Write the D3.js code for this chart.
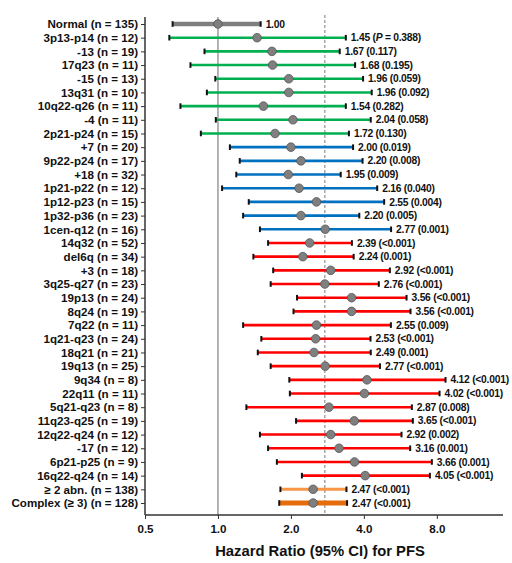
<!DOCTYPE html>
<html>
<head>
<meta charset="utf-8">
<script src="https://cdnjs.cloudflare.com/ajax/libs/d3/7.8.5/d3.min.js"></script>
<style>
    body { margin: 0; background: #fff; }
    text { font-family: "Liberation Sans", Arial, sans-serif; font-weight: bold; }
</style>
</head>
<body>
<svg class="forest" width="512" height="563"></svg>
<script>
(function () {
    'use strict';

    var labels = ['Normal', '3p13-p14', '-13', '17q23', '-15', '13q31', '10q22-q26', '-4', '2p21-p24',
        '+7', '9p22-p24', '+18', '1p21-p22', '1p12-p23', '1p32-p36', '1cen-q12',
        '14q32', 'del6q', '+3', '3q25-q27', '19p13', '8q24', '7q22', '1q21-q23', '18q21', '19q13',
        '9q34', '22q11', '5q21-q23', '11q23-q25', '12q22-q24', '-17', '6p21-p25', '16q22-q24',
        '\u2265 2 abn.', 'Complex (\u2265 3)'];
    var counts = [135, 12, 19, 11, 13, 10, 11, 11, 15,
        20, 17, 32, 12, 15, 23, 16,
        52, 34, 18, 23, 24, 19, 11, 24, 21, 25,
        8, 11, 8, 19, 12, 12, 9, 14,
        138, 128];
    var hr = [1.00, 1.45, 1.67, 1.68, 1.96, 1.96, 1.54, 2.04, 1.72,
        2.00, 2.20, 1.95, 2.16, 2.55, 2.20, 2.77,
        2.39, 2.24, 2.92, 2.76, 3.56, 3.56, 2.55, 2.53, 2.49, 2.77,
        4.12, 4.02, 2.87, 3.65, 2.92, 3.16, 3.66, 4.05,
        2.47, 2.47];
    var lower = [0.65, 0.63, 0.88, 0.77, 0.975, 0.90, 0.70, 0.98, 0.85,
        1.12, 1.23, 1.19, 1.04, 1.34, 1.27, 1.49,
        1.61, 1.40, 1.69, 1.65, 2.12, 2.05, 1.27, 1.51, 1.46, 1.65,
        1.97, 1.98, 1.31, 2.10, 1.49, 1.61, 1.75, 2.22,
        1.81, 1.79];
    var upper = [1.50, 3.37, 3.18, 3.68, 3.97, 4.31, 3.37, 4.27, 3.47,
        3.61, 3.95, 3.21, 4.54, 4.85, 3.83, 5.18,
        3.57, 3.63, 5.12, 4.61, 6.00, 6.23, 5.17, 4.26, 4.27, 4.66,
        8.69, 8.21, 6.31, 6.37, 5.72, 6.21, 7.63, 7.49,
        3.39, 3.41];
    var pValues = [null, '0.388', '0.117', '0.195', '0.059', '0.092', '0.282', '0.058', '0.130',
        '0.019', '0.008', '0.009', '0.040', '0.004', '0.005', '0.001',
        '<0.001', '0.001', '<0.001', '<0.001', '<0.001', '<0.001', '0.009', '<0.001', '0.001', '<0.001',
        '<0.001', '<0.001', '0.008', '<0.001', '0.002', '0.001', '0.001', '<0.001',
        '<0.001', '<0.001'];
    var groups = ['normal', 'green', 'green', 'green', 'green', 'green', 'green', 'green', 'green',
        'blue', 'blue', 'blue', 'blue', 'blue', 'blue', 'blue',
        'red', 'red', 'red', 'red', 'red', 'red', 'red', 'red', 'red', 'red',
        'red', 'red', 'red', 'red', 'red', 'red', 'red', 'red',
        'abn', 'complex'];
    var xTicks = [0.5, 1, 2, 4, 8];
    var refMedian = 2.76;

    var colour = {normal: '#7f7f7f', green: '#00b050', blue: '#0070c0', red: '#ff0000', abn: '#f79646', complex: '#e46c0a'},
        thick = {normal: 4.5, green: 2.6, blue: 2.6, red: 2.6, abn: 3, complex: 5};

    var rows = labels.map(function (d, i) {
        return {id: i, label: d + ' (n = ' + counts[i] + ')', hr: hr[i], lo: lower[i], hi: upper[i], p: pValues[i], group: groups[i]};
    });

    var left = 145, right = 503, top = 17, bottom = 515;

    var x = d3.scaleLog().base(2).domain([0.5, 15]).range([left, right]);
    var y = d3.scalePoint().domain(rows.map(function (d) { return d.id; })).range([24, 503]);

    var svg = d3.select('.forest');

    // Reference lines
    svg.append('line')
        .attr('x1', x(1)).attr('x2', x(1))
        .attr('y1', top).attr('y2', bottom)
        .attr('stroke', '#8a8a8a').attr('stroke-width', 1.3);
    svg.append('line')
        .attr('x1', x(refMedian)).attr('x2', x(refMedian))
        .attr('y1', top - 2).attr('y2', bottom)
        .attr('stroke', '#9a9a9a').attr('stroke-width', 1.3)
        .attr('stroke-dasharray', '3,2');

    // Y axis (category labels)
    var yAxis = svg.append('g')
        .attr('transform', 'translate(' + left + ',0)')
        .call(d3.axisLeft(y).tickSize(4).tickPadding(3).tickFormat(function (d) { return rows[d].label; }));
    yAxis.select('.domain').attr('d', 'M0,' + top + 'V' + bottom).attr('stroke', '#333').attr('stroke-width', 1.5);
    yAxis.selectAll('.tick line').attr('stroke', '#333');
    yAxis.selectAll('.tick text').attr('font-size', 11.6).attr('fill', '#111');

    // X axis
    var xAxis = svg.append('g')
        .attr('transform', 'translate(0,' + bottom + ')')
        .call(d3.axisBottom(x).tickValues(xTicks).tickSize(4).tickPadding(6).tickFormat(d3.format('.1f')));
    xAxis.select('.domain').attr('d', 'M' + left + ',0H' + right).attr('stroke', '#333').attr('stroke-width', 1.5);
    xAxis.selectAll('.tick line').attr('stroke', '#333');
    xAxis.selectAll('.tick text').attr('font-size', 11.6).attr('fill', '#111');

    svg.append('text')
        .attr('x', 320).attr('y', 556)
        .attr('text-anchor', 'middle')
        .attr('font-size', 14.8)
        .attr('fill', '#111')
        .text('Hazard Ratio (95% CI) for PFS');

    // Confidence intervals
    var rowG = svg.append('g').selectAll('g').data(rows).enter().append('g')
        .attr('transform', function (d) { return 'translate(0,' + y(d.id) + ')'; });

    rowG.append('line')
        .attr('x1', function (d) { return x(d.lo); })
        .attr('x2', function (d) { return x(d.hi); })
        .attr('stroke', function (d) { return colour[d.group]; })
        .attr('stroke-width', function (d) { return thick[d.group]; });

    rowG.selectAll('rect.cap')
        .data(function (d) { return [d.lo, d.hi]; })
        .enter().append('rect')
        .attr('class', 'cap')
        .attr('x', function (v) { return x(v) - 1; })
        .attr('y', -2.8)
        .attr('width', 2)
        .attr('height', 5.6)
        .attr('fill', '#111');

    rowG.append('circle')
        .attr('cx', function (d) { return x(d.hr); })
        .attr('r', 4.3)
        .attr('fill', '#7f7f7f')
        .attr('stroke', '#555')
        .attr('stroke-width', 0.8);

    // Value labels
    var txt = rowG.append('text')
        .attr('x', function (d) { return x(d.hi) + 5; })
        .attr('dy', '0.35em')
        .attr('font-size', 10.3)
        .attr('letter-spacing', -0.25)
        .attr('fill', '#111');

    txt.each(function (d, i) {
        var t = d3.select(this);
        if (d.p === null) {
            t.text(d3.format('.2f')(d.hr));
        } else if (i === 1) {
            t.append('tspan').text(d3.format('.2f')(d.hr) + ' (');
            t.append('tspan').attr('font-style', 'italic').text('P');
            t.append('tspan').text(' = ' + d.p + ')');
        } else {
            t.text(d3.format('.2f')(d.hr) + ' (' + d.p + ')');
        }
    });
}());
</script>
</body>
</html>
